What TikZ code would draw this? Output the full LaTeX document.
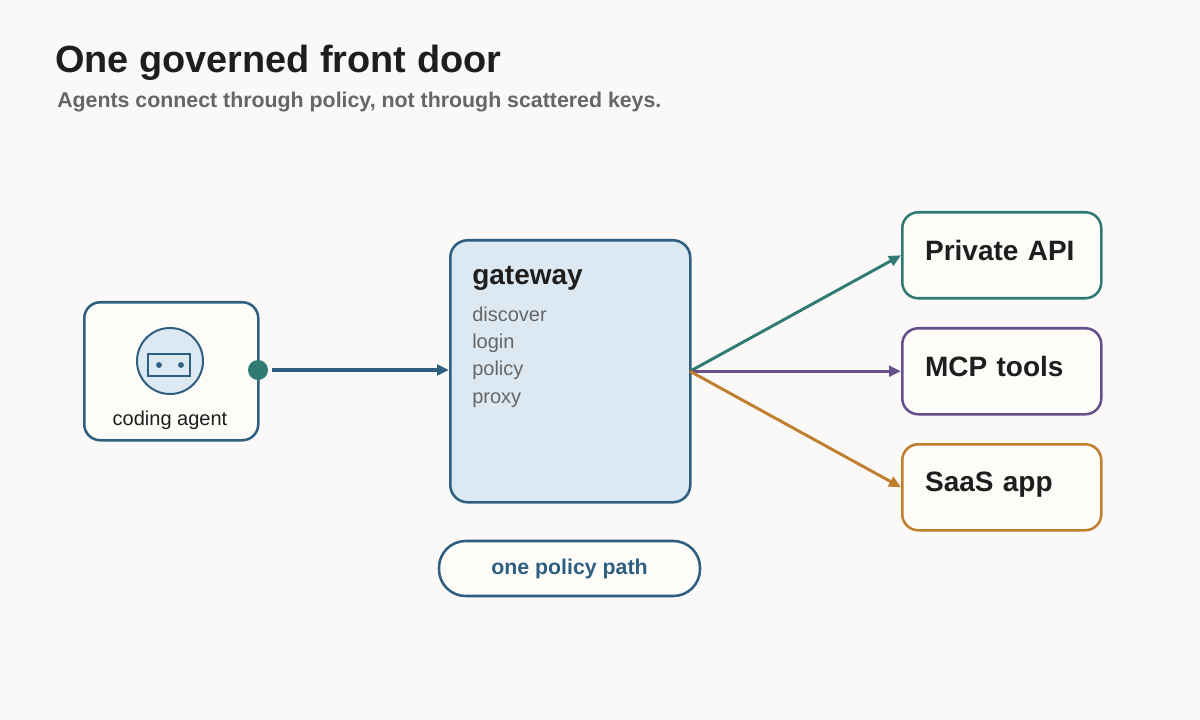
\documentclass[tikz,border=0pt]{standalone}
\usepackage{fontspec}
\setmainfont{Liberation Sans}
\usetikzlibrary{arrows.meta}
\definecolor{bg}{HTML}{FAF9F7}
\definecolor{blu}{HTML}{2E5E80}
\definecolor{lblu}{HTML}{DDE9F2}
\definecolor{teal}{HTML}{2F7A72}
\definecolor{purp}{HTML}{65508A}
\definecolor{oran}{HTML}{C07F2E}
\definecolor{card}{HTML}{FDFCF8}
\definecolor{ink}{HTML}{1E1E1E}
\definecolor{gry}{HTML}{666666}
\begin{document}
\begin{tikzpicture}[x=0.75pt,y=-0.75pt,
  box/.style={draw, line width=1.9pt, rounded corners=12pt, fill=card},
  dest/.style={box, minimum width=149.25pt, minimum height=64.5pt, anchor=north west, text width=115pt, align=left, font=\bfseries\fontsize{21}{24}\selectfont, text=ink, inner xsep=17pt, inner ysep=0pt, text depth=8pt},
  conn/.style={line width=2.2pt, -{Triangle[length=9pt,width=8pt]}},
  item/.style={anchor=base west, text=gry, font=\fontsize{15}{17}\selectfont, inner sep=0}]
\fill[bg] (0,0) rectangle (1200,720);
\useasboundingbox (0,0) rectangle (1200,720);
\node[anchor=base west, inner sep=0, text=ink, font=\bfseries\fontsize{28.4}{32}\selectfont] (title) at (55,73) {One governed front door};
\node[anchor=base west, inner sep=0, text=gry, font=\bfseries\fontsize{16}{19}\selectfont] (sub) at (57,108) {Agents connect through policy, not through scattered keys.};
% agent
\node[box, draw=blu, minimum width=130.5pt, minimum height=103.5pt, anchor=north west] (agent) at (83,301) {};
\node[circle, draw=blu, fill=lblu, line width=1.5pt, minimum size=49.5pt, inner sep=0] (icon) at (170,361) {};
\node[draw=blu, line width=2.2pt, minimum width=31.5pt, minimum height=16.5pt, inner sep=0] (face) at (169,365) {};
\fill[blu] (159,365) circle (2.2pt) (181,365) circle (2.2pt);
\node[anchor=base, inner sep=0, text=ink, font=\fontsize{15}{17}\selectfont] (al) at (170,426) {coding agent};
\node[circle, fill=teal, minimum size=15pt, inner sep=0] (port) at (258,370) {};
% gateway
\node[box, draw=blu, fill=lblu, rounded corners=13pt, minimum width=180pt, minimum height=196.5pt, anchor=north west] (gw) at (449,239) {};
\node[anchor=base west, inner sep=0, text=ink, font=\bfseries\fontsize{21}{24}\selectfont] (gwt) at (472,285) {gateway};
\node[item] (i1) at (472,322) {discover};
\node[item] (i2) at (472,349) {login};
\node[item] (i3) at (472,376) {policy};
\node[item] (i4) at (472,403) {proxy};
\coordinate (gin) at (449,370);
% destinations
\node[dest, draw=teal] (api) at (901,211) {Private API};
\node[dest, draw=purp] (mcp) at (901,327) {MCP tools};
\node[dest, draw=oran] (saas) at (901,443) {SaaS app};
\coordinate (gout) at (690,0 |- mcp.west);
\draw[conn, draw=blu, fill=blu, line width=3pt] ([xshift=10.5pt]port.center) -- (gin);
\draw[conn, teal] (gout) -- (api.west);
\draw[conn, purp] (gout) -- (mcp.west);
\draw[conn, oran] (gout) -- (saas.west);
% pill
\node[draw=blu, line width=1.9pt, fill=card, rounded corners=20pt, minimum width=195.75pt, minimum height=41.25pt, text=blu, font=\bfseries\fontsize{16}{19}\selectfont] (pill) at (569.5,568.5) {one policy path};
\end{tikzpicture}
\end{document}
